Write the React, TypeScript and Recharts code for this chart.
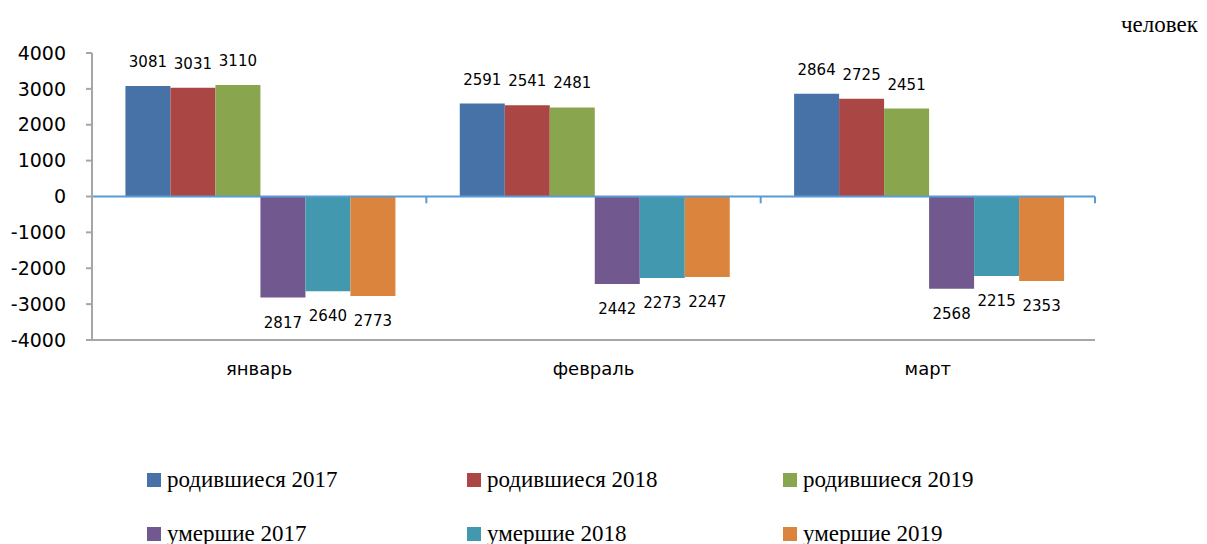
import React from 'react';
import { BarChart, Bar, XAxis, YAxis, ReferenceLine, LabelList } from 'recharts';

const months = ['январь', 'февраль', 'март'];
const born2017 = [3081, 2591, 2864];
const born2018 = [3031, 2541, 2725];
const born2019 = [3110, 2481, 2451];
const died2017 = [2817, 2442, 2568];
const died2018 = [2640, 2273, 2215];
const died2019 = [2773, 2247, 2353];
const yTicks = [-4000, -3000, -2000, -1000, 0, 1000, 2000, 3000, 4000];
const seriesKeys = ['b17', 'b18', 'b19', 'd17', 'd18', 'd19'];
const seriesNames = [
  'родившиеся 2017',
  'родившиеся 2018',
  'родившиеся 2019',
  'умершие 2017',
  'умершие 2018',
  'умершие 2019',
];
const seriesColors = ['#4672A8', '#AA4643', '#89A54E', '#71588F', '#4198AF', '#DB843D'];
const unitLabel = 'человек';

const data = months.map((m, i) => ({
  month: m,
  b17: born2017[i],
  b18: born2018[i],
  b19: born2019[i],
  d17: -died2017[i],
  d18: -died2018[i],
  d19: -died2019[i],
}));

const GRAY = '#A6A6A6';
const ZERO = '#5B9BD5';

const ValueLabel = (props: any) => {
  const { x, y, width, height, value } = props;
  const top = Math.min(y, y + height);
  const bottom = Math.max(y, y + height);
  const cy = value >= 0 ? top - 24 : bottom + 25;
  return (
    <text
      x={x + width / 2}
      y={cy}
      textAnchor="middle"
      dominantBaseline="central"
      fontFamily="DejaVu Sans"
      fontSize={15}
      fill="#000"
    >
      {Math.abs(value)}
    </text>
  );
};

export default function App() {
  return (
    <div style={{ position: 'absolute', left: 0, top: 0, width: 1207, height: 544, background: '#fff' }}>
      <BarChart
        width={1207}
        height={544}
        data={data}
        margin={{ top: 53, right: 112, left: 0, bottom: 174 }}
        barCategoryGap="10%"
        barGap={0}
      >
        <XAxis
          dataKey="month"
          height={30}
          tickLine={false}
          tickSize={0}
          tickMargin={22}
          axisLine={{ stroke: GRAY, strokeWidth: 2 }}
          tick={{ fontFamily: 'DejaVu Sans', fontSize: 18, fill: '#000' }}
        />
        <XAxis
          xAxisId="top"
          orientation="top"
          dataKey="month"
          height={0}
          tick={false}
          tickLine={false}
          axisLine={{ stroke: GRAY, strokeWidth: 2 }}
        />
        <YAxis
          width={92}
          domain={[-4000, 4000]}
          ticks={yTicks}
          interval={0}
          tickSize={6}
          tickMargin={20}
          axisLine={{ stroke: GRAY, strokeWidth: 2 }}
          tickLine={{ stroke: GRAY, strokeWidth: 2 }}
          tick={{ fontFamily: 'DejaVu Sans', fontSize: 19, fill: '#000' }}
        />
        <YAxis
          yAxisId="right"
          orientation="right"
          width={0}
          domain={[-4000, 4000]}
          tick={false}
          tickLine={false}
          axisLine={{ stroke: GRAY, strokeWidth: 2 }}
        />
        {seriesKeys.map((k, i) => (
          <Bar key={k} dataKey={k} name={seriesNames[i]} fill={seriesColors[i]} isAnimationActive={false}>
            <LabelList dataKey={k} content={ValueLabel} />
          </Bar>
        ))}
        <ReferenceLine y={0} stroke={ZERO} strokeWidth={2} />
        <ReferenceLine
          segment={[{ x: months[0], y: 0 }, { x: months[0], y: -190 }]}
          position="start"
          stroke={ZERO}
          strokeWidth={2}
        />
        {months.map((m) => (
          <ReferenceLine
            key={'t' + m}
            segment={[{ x: m, y: 0 }, { x: m, y: -190 }]}
            position="end"
            stroke={ZERO}
            strokeWidth={2}
          />
        ))}
      </BarChart>
      <div
        style={{
          position: 'absolute',
          left: 1121,
          top: 12,
          fontFamily: 'Liberation Serif',
          fontSize: 23,
          color: '#000',
          whiteSpace: 'nowrap',
        }}
      >
        {unitLabel}
      </div>
      {seriesNames.map((name, i) => {
        const col = i % 3;
        const row = Math.floor(i / 3);
        const left = [147, 467, 783][col];
        const cy = [480, 534][row];
        return (
          <div
            key={name}
            style={{
              position: 'absolute',
              left,
              top: cy - 14,
              height: 28,
              display: 'flex',
              alignItems: 'center',
              whiteSpace: 'nowrap',
              fontFamily: 'Liberation Serif',
              fontSize: 23,
              color: '#000',
            }}
          >
            <span style={{ display: 'inline-block', width: 14, height: 14, background: seriesColors[i], marginRight: 6 }} />
            <span>{name}</span>
          </div>
        );
      })}
    </div>
  );
}
